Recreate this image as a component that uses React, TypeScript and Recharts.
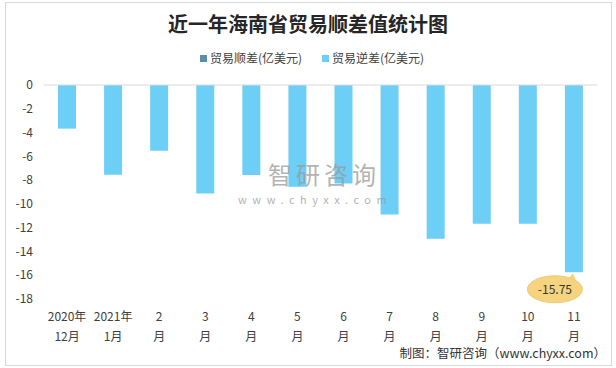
import React from "react";
import { BarChart, Bar, XAxis, YAxis, ReferenceLine, LabelList } from "recharts";

const categories = [
  "2020年\n12月",
  "2021年\n1月",
  "2\n月",
  "3\n月",
  "4\n月",
  "5\n月",
  "6\n月",
  "7\n月",
  "8\n月",
  "9\n月",
  "10\n月",
  "11\n月",
];
const surplus = [null, null, null, null, null, null, null, null, null, null, null, null];
const deficit = [-3.67, -7.54, -5.52, -9.13, -7.56, -8.55, -8.29, -10.9, -12.94, -11.68, -11.68, -15.75];
const yTicks = [0, -2, -4, -6, -8, -10, -12, -14, -16, -18];

const title = "近一年海南省贸易顺差值统计图";
const surplusName = "贸易顺差(亿美元)";
const deficitName = "贸易逆差(亿美元)";
const source = "制图：智研咨询（www.chyxx.com）";

const data = categories.map((c, i) => ({
  name: c,
  surplus: surplus[i],
  deficit: deficit[i],
}));

const FONT = '"Noto Sans CJK SC", "Noto Sans", sans-serif';
const BLUE = "#6dcff6";
const TEAL = "#5b8fa5";

const CategoryTick = (props: any) => {
  const { x, y, payload } = props;
  const lines = String(payload.value).split("\n");
  return (
    <g>
      {lines.map((l, i) => (
        <text
          key={i}
          x={x}
          y={y + 22 + i * 20}
          textAnchor="middle"
          fontSize={12}
          fill="#404040"
          fontFamily={FONT}
        >
          {l}
        </text>
      ))}
    </g>
  );
};

const Callout = (props: any) => {
  const { x, y, width, height, index, value } = props;
  if (index !== deficit.length - 1) return null;
  const bottom = Math.max(y, y + height);
  const cx = x + width / 2 - 19;
  const cy = bottom + 17;
  const tipX = x + width / 2 - 1;
  return (
    <g>
      <path
        d={`M ${cx + 14} ${cy - 11} L ${tipX} ${bottom + 1} L ${cx + 22} ${cy - 7} Z`}
        fill="#f6d37e"
      />
      <ellipse cx={cx} cy={cy} rx={27.5} ry={13.5} fill="#f6d37e" stroke="#eccb79" />
      <text
        x={cx}
        y={cy + 4.5}
        textAnchor="middle"
        fontSize={12}
        fill="#333"
        fontFamily={FONT}
      >
        {value}
      </text>
    </g>
  );
};

export default function App() {
  return (
    <div
      style={{
        position: "absolute",
        left: 0,
        top: 0,
        width: 616,
        height: 368,
        background: "#fff",
        fontFamily: FONT,
      }}
    >
      <div
        style={{
          position: "absolute",
          left: 5,
          top: 2,
          width: 605,
          height: 362,
          border: "1px solid #d9d9d9",
        }}
      />
      <div
        style={{
          position: "absolute",
          top: 10,
          left: 0,
          width: 616,
          textAlign: "center",
          fontSize: 20,
          fontWeight: "bold",
          color: "#262626",
          lineHeight: "28px",
        }}
      >
        {title}
      </div>
      <div
        style={{
          position: "absolute",
          top: 49,
          left: 4,
          width: 616,
          display: "flex",
          justifyContent: "center",
          fontSize: 12,
          color: "#404040",
          lineHeight: "18px",
        }}
      >
        <span style={{ display: "flex", alignItems: "center", marginRight: 20 }}>
          <span style={{ width: 7, height: 7, background: TEAL, marginRight: 3 }} />
          {surplusName}
        </span>
        <span style={{ display: "flex", alignItems: "center" }}>
          <span style={{ width: 7, height: 7, background: BLUE, marginRight: 3 }} />
          {deficitName}
        </span>
      </div>
      <div
        style={{
          position: "absolute",
          left: 238,
          top: 160,
          color: "#9a9a9a",
          opacity: 0.75,
          pointerEvents: "none",
          zIndex: 2,
        }}
      >
        <div style={{ fontSize: 24, letterSpacing: 4, lineHeight: "28px", paddingLeft: 30 }}>智研咨询</div>
        <div style={{ fontSize: 11, letterSpacing: 5.5, lineHeight: "14px", marginTop: 4 }}>www.chyxx.com</div>
      </div>
      <div
        style={{
          position: "absolute",
          right: 10,
          top: 344,
          fontSize: 12.5,
          color: "#333",
          lineHeight: "18px",
        }}
      >
        {source}
      </div>
      <div style={{ position: "absolute", left: 0, top: 0 }}>
        <BarChart
          width={616}
          height={368}
          data={data}
          margin={{ top: 85, right: 19, bottom: 0, left: 4 }}
          barSize={18}
        >
          <XAxis
            dataKey="name"
            axisLine={false}
            tickLine={false}
            tickSize={0}
            tickMargin={0}
            height={69}
            interval={0}
            tick={<CategoryTick />}
          />
          <YAxis
            domain={[-18, 0]}
            ticks={yTicks}
            axisLine={false}
            tickLine={false}
            tickSize={0}
            tickMargin={11}
            width={40}
            interval={0}
            tick={{ fontSize: 12, fill: "#404040", fontFamily: FONT }}
          />
          <ReferenceLine y={0} stroke="#d9d9d9" strokeWidth={1} />
          <Bar dataKey="surplus" name={surplusName} stackId="a" fill={TEAL} isAnimationActive={false} />
          <Bar dataKey="deficit" name={deficitName} stackId="a" fill={BLUE} isAnimationActive={false}>
            <LabelList dataKey="deficit" content={<Callout />} />
          </Bar>
        </BarChart>
      </div>
    </div>
  );
}
